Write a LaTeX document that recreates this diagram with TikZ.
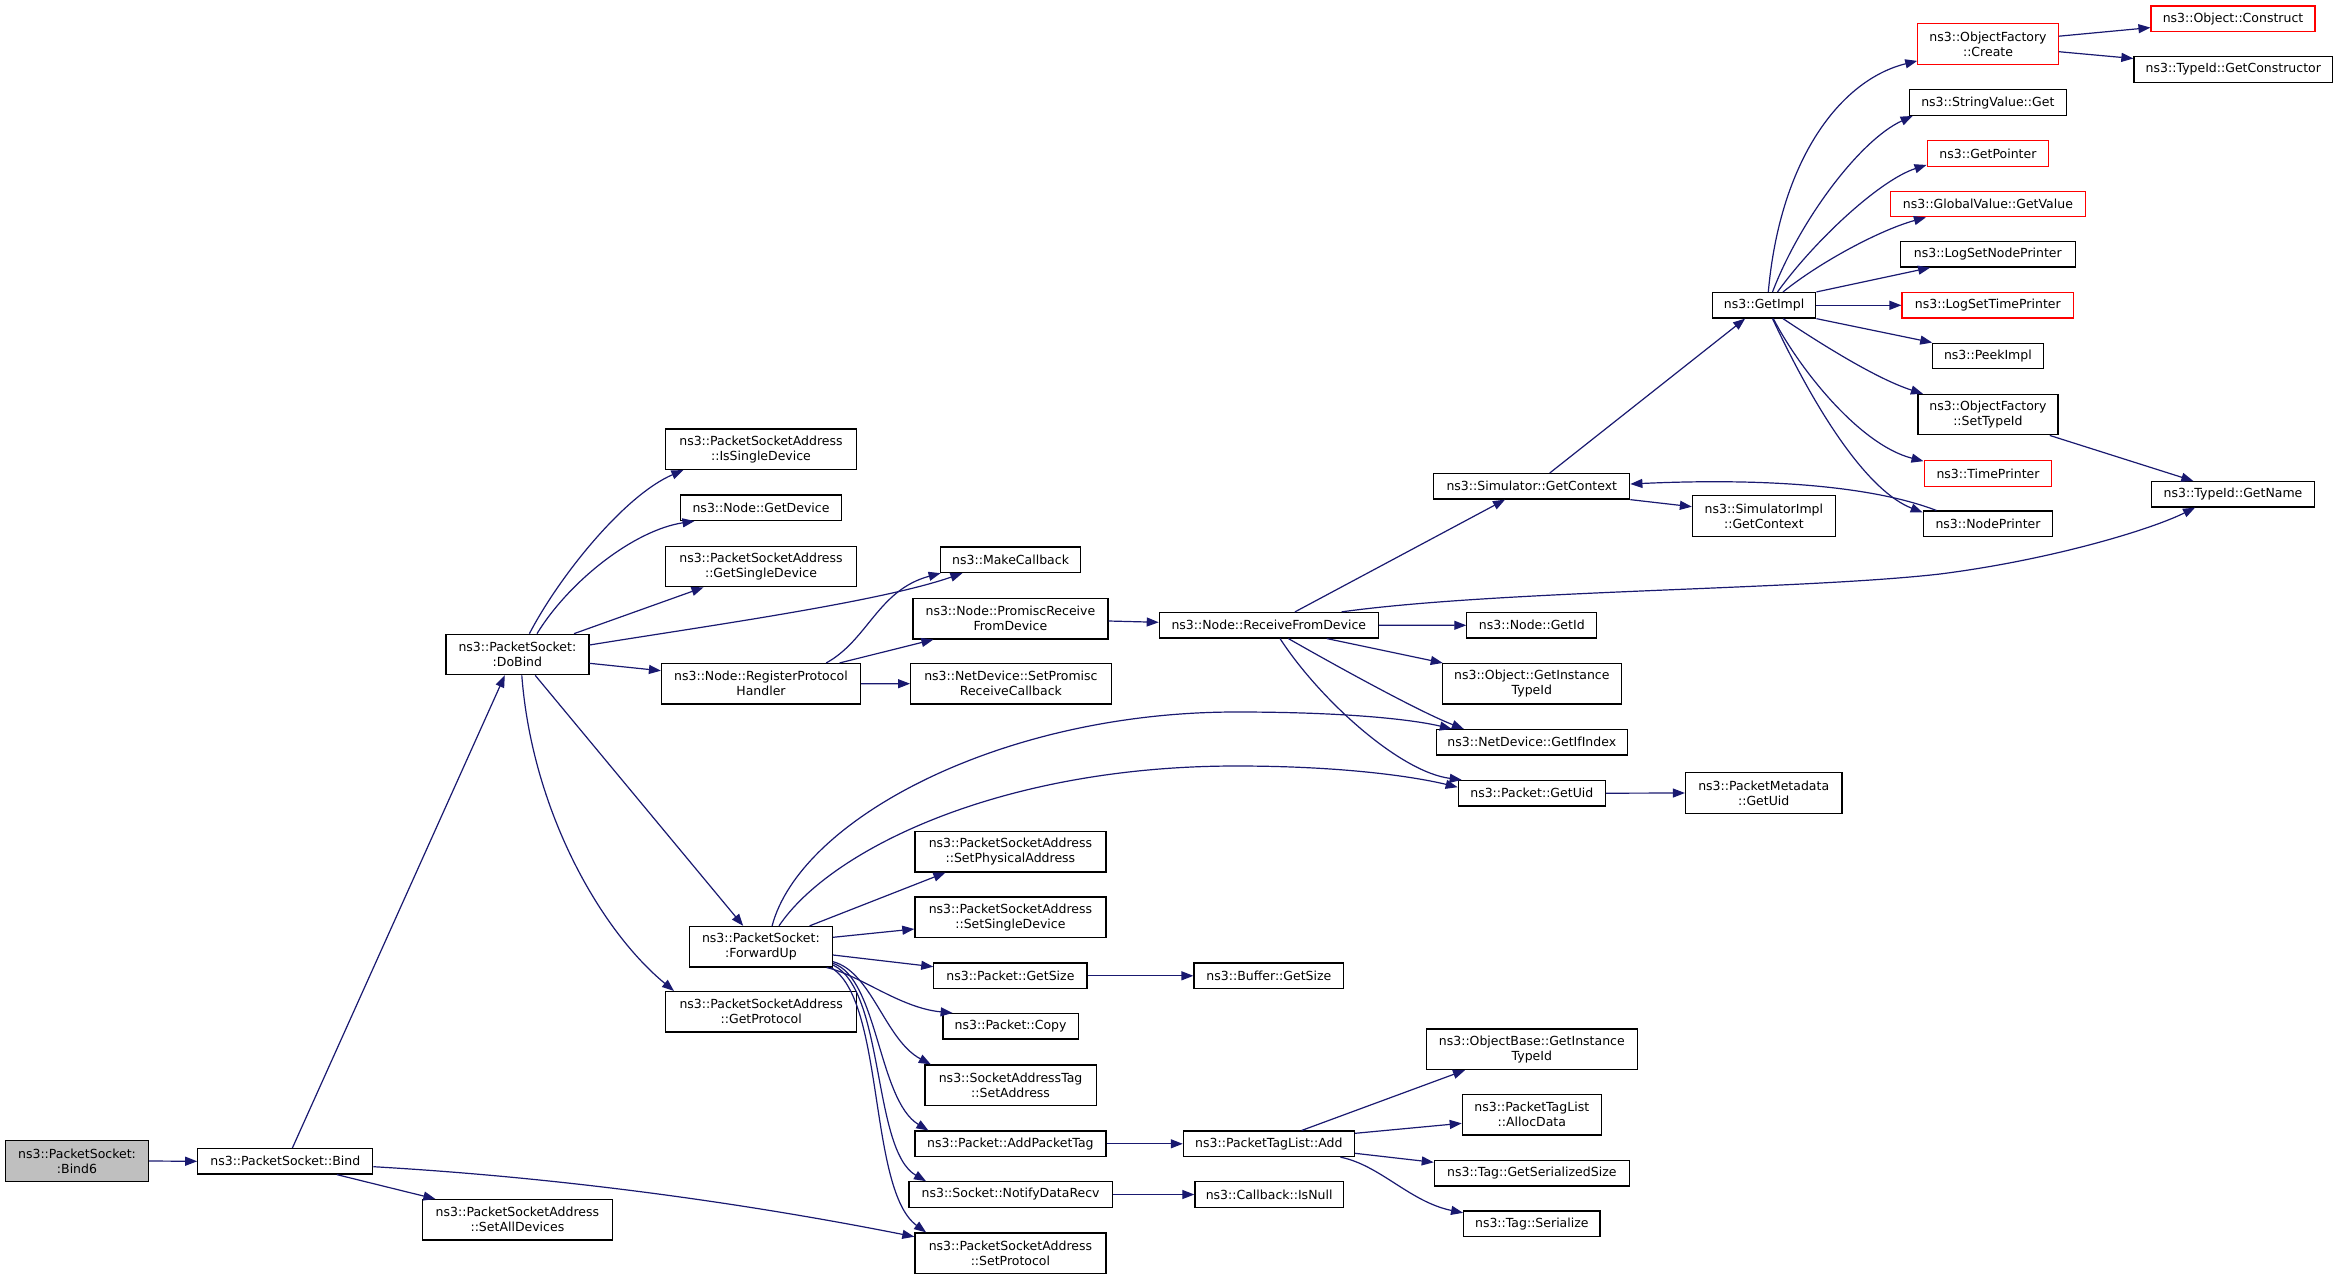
\documentclass[tikz,border=0pt]{standalone}
\usepackage{fontspec}
\setmainfont{DejaVu Sans}
\usetikzlibrary{calc,arrows.meta}
\definecolor{navyc}{RGB}{25,25,112}
\definecolor{grayfill}{RGB}{191,191,191}
\tikzset{
  fn/.style={draw=black, line width=1.2pt, fill=white, inner sep=0pt, align=center,
    font=\fontsize{12.5}{15}\selectfont, minimum height=25.5pt},
  fn2/.style={fn, minimum height=40.5pt},
  trunc/.style={draw=red},
  edge/.style={draw=navyc, line width=1.2pt, -{Triangle[length=12pt,width=9pt]}},
}
\begin{document}
\begin{tikzpicture}[x=1pt,y=-1pt]
\fill[white] (0,0) rectangle (2339,1279);
\useasboundingbox (0,0) rectangle (2339,1279);

% ---- nodes ----
\node[fn2, fill=grayfill, minimum width=143pt] (bind6) at (77,1161) {ns3::PacketSocket:\\:Bind6};
\node[fn, minimum width=175pt] (bind) at (285.3,1161.3) {ns3::PacketSocket::Bind};
\node[fn2, minimum width=143pt] (dobind) at (517.4,654.5) {ns3::PacketSocket:\\:DoBind};
\node[fn2, minimum width=190pt] (setall) at (517.4,1219.8) {ns3::PacketSocketAddress\\::SetAllDevices};
\node[fn2, minimum width=191pt] (setproto) at (1010.4,1253.2) {ns3::PacketSocketAddress\\::SetProtocol};
\node[fn2, minimum width=191pt] (issingle) at (761,449.2) {ns3::PacketSocketAddress\\::IsSingleDevice};
\node[fn, minimum width=161.6pt] (getdevice) at (761,507.7) {ns3::Node::GetDevice};
\node[fn2, minimum width=191pt] (getsingle) at (761,566.5) {ns3::PacketSocketAddress\\::GetSingleDevice};
\node[fn, minimum width=140.2pt] (makecb) at (1010.6,559.8) {ns3::MakeCallback};
\node[fn2, minimum width=199pt] (register) at (761,683.8) {ns3::Node::RegisterProtocol\\Handler};
\node[fn2, minimum width=195pt] (promisc) at (1010.4,618.7) {ns3::Node::PromiscReceive\\FromDevice};
\node[fn2, minimum width=200.5pt] (setpromisc) at (1010.9,683.7) {ns3::NetDevice::SetPromisc\\ReceiveCallback};
\node[fn2, minimum width=143pt] (forward) at (760.9,946.7) {ns3::PacketSocket:\\:ForwardUp};
\node[fn2, minimum width=191pt] (getproto) at (761.2,1011.8) {ns3::PacketSocketAddress\\::GetProtocol};
\node[fn2, minimum width=191pt] (setphys) at (1010.4,851.8) {ns3::PacketSocketAddress\\::SetPhysicalAddress};
\node[fn2, minimum width=191pt] (setsingle) at (1010.4,917.2) {ns3::PacketSocketAddress\\::SetSingleDevice};
\node[fn, minimum width=153.2pt] (getsize) at (1010.4,975.8) {ns3::Packet::GetSize};
\node[fn, minimum width=149.8pt] (bufsize) at (1268.9,975.8) {ns3::Buffer::GetSize};
\node[fn, minimum width=135.3pt] (copy) at (1010.6,1026.3) {ns3::Packet::Copy};
\node[fn2, minimum width=171.1pt] (setaddr) at (1010.6,1085.2) {ns3::SocketAddressTag\\::SetAddress};
\node[fn, minimum width=191pt] (addtag) at (1010.4,1143.8) {ns3::Packet::AddPacketTag};
\node[fn, minimum width=171.1pt] (tagadd) at (1268.9,1143.8) {ns3::PacketTagList::Add};
\node[fn, minimum width=203.1pt] (notify) at (1010.6,1194.5) {ns3::Socket::NotifyDataRecv};
\node[fn, minimum width=148.3pt] (isnull) at (1269.1,1194.5) {ns3::Callback::IsNull};
\node[fn, minimum width=219pt] (recv) at (1268.8,625.2) {ns3::Node::ReceiveFromDevice};
\node[fn, minimum width=196pt] (simctx) at (1531.8,486.3) {ns3::Simulator::GetContext};
\node[fn2, minimum width=142.9pt] (simimpl) at (1763.9,516) {ns3::SimulatorImpl\\::GetContext};
\node[fn, minimum width=129.9pt] (getid) at (1531.8,625.3) {ns3::Node::GetId};
\node[fn2, minimum width=179pt] (objtid) at (1531.8,683.8) {ns3::Object::GetInstance\\TypeId};
\node[fn, minimum width=190.8pt] (ifindex) at (1531.8,742.3) {ns3::NetDevice::GetIfIndex};
\node[fn, minimum width=147.1pt] (getuid) at (1531.8,793.2) {ns3::Packet::GetUid};
\node[fn2, minimum width=156.4pt] (metauid) at (1763.7,793) {ns3::PacketMetadata\\::GetUid};
\node[fn2, minimum width=211pt] (basetid) at (1531.8,1049.3) {ns3::ObjectBase::GetInstance\\TypeId};
\node[fn2, minimum width=139pt] (alloc) at (1531.8,1114.7) {ns3::PacketTagList\\::AllocData};
\node[fn, minimum width=195pt] (sersize) at (1531.8,1173.2) {ns3::Tag::GetSerializedSize};
\node[fn, minimum width=136.3pt] (serialize) at (1531.8,1223.8) {ns3::Tag::Serialize};
\node[fn, minimum width=103.4pt] (getimpl) at (1764.1,305.3) {ns3::GetImpl};
\node[fn2, trunc, minimum width=140.4pt] (create) at (1988,43.9) {ns3::ObjectFactory\\::Create};
\node[fn, trunc, minimum width=163.9pt] (construct) at (2233,18.8) {ns3::Object::Construct};
\node[fn, minimum width=198.8pt] (getctor) at (2233.3,69.4) {ns3::TypeId::GetConstructor};
\node[fn, minimum width=157.2pt] (strget) at (1987.8,102.6) {ns3::StringValue::Get};
\node[fn, trunc, minimum width=121.5pt] (getptr) at (1987.9,153.6) {ns3::GetPointer};
\node[fn, trunc, minimum width=194.6pt] (globval) at (1987.9,204) {ns3::GlobalValue::GetValue};
\node[fn, minimum width=174.9pt] (lognode) at (1987.8,254.3) {ns3::LogSetNodePrinter};
\node[fn, trunc, minimum width=171.5pt] (logtime) at (1987.8,305.3) {ns3::LogSetTimePrinter};
\node[fn, minimum width=110.5pt] (peek) at (1987.9,355.9) {ns3::PeekImpl};
\node[fn2, minimum width=140pt] (settid) at (1987.9,414.6) {ns3::ObjectFactory\\::SetTypeId};
\node[fn, trunc, minimum width=126.9pt] (timepr) at (1988,473.5) {ns3::TimePrinter};
\node[fn, minimum width=129.5pt] (nodepr) at (1988,523.8) {ns3::NodePrinter};
\node[fn, minimum width=162.6pt] (getname) at (2233,494.3) {ns3::TypeId::GetName};

% ---- edges ----
\draw[edge] (bind6.east) -- (bind.west);
\draw[edge] ($(bind.north)+(7.1,0)$) -- ($(dobind.south)+(-12.6,0)$);
\draw[edge] ($(bind.south)+(51.7,0)$) -- ($(setall.north)+(-82,0)$);
\draw[edge] ($(bind.east)+(0,5.4)$) .. controls (553,1177) and (734,1201) .. ($(setproto.west)+(0,-16.5)$);

\draw[edge] ($(dobind.north)+(12,0)$) .. controls (560,575) and (625,495) .. ($(issingle.south)+(-77.6,0)$);
\draw[edge] ($(dobind.north)+(19.6,0)$) .. controls (570,580) and (635,530) .. ($(getdevice.south)+(-66.5,0)$);
\draw[edge] ($(dobind.north)+(56.6,0)$) -- ($(getsingle.south)+(-57.5,0)$);
\draw[edge] ($(dobind.east)+(0,-9.5)$) .. controls (700,627) and (880,602) .. ($(makecb.south)+(-48.2,0)$);
\draw[edge] ($(dobind.east)+(0,8.8)$) -- ($(register.west)+(0,-13.1)$);
\draw[edge] ($(dobind.south)+(17.8,0)$) -- ($(forward.north)+(-17.7,0)$);
\draw[edge] ($(dobind.south)+(4.4,0)$) .. controls (532,810) and (600,930) .. ($(getproto.north)+(-87.2,0)$);

\draw[edge] ($(register.north)+(65.2,0)$) .. controls (868,640) and (878,590) .. ($(makecb.south)+(-70,0)$);
\draw[edge] ($(register.north)+(78.6,0)$) -- ($(promisc.south)+(-77,0)$);
\draw[edge] (register.east) -- (setpromisc.west);
\draw[edge] ($(promisc.east)+(0,2.3)$) -- ($(recv.west)+(0,-2.9)$);

\draw[edge] ($(recv.north)+(26.2,0)$) -- ($(simctx.south)+(-26.8,0)$);
\draw[edge] ($(recv.north)+(72.9,0)$) .. controls (1500,590) and (1800,590) .. (1940,574) .. controls (2050,560) and (2150,530) .. ($(getname.south)+(-38,0)$);
\draw[edge] (recv.east) -- (getid.west);
\draw[edge] ($(recv.south)+(57.9,0)$) -- ($(objtid.north west)+(1,0)$);
\draw[edge] ($(recv.south)+(19.5,0)$) .. controls (1340,668) and (1420,712) .. ($(ifindex.north west)+(28,0)$);
\draw[edge] ($(recv.south)+(11.2,0)$) .. controls (1320,700) and (1400,772) .. ($(getuid.north west)+(4,0)$);

\draw[edge] ($(forward.north)+(11.2,0)$) .. controls (800,820) and (1000,712) .. (1236,712) .. controls (1350,712) and (1415,720) .. ($(ifindex.north west)+(16,0)$);
\draw[edge] ($(forward.north)+(18.1,0)$) .. controls (830,850) and (1000,766) .. (1236,766) .. controls (1350,766) and (1420,778) .. ($(getuid.west)+(0,-6)$);
\draw[edge] ($(forward.north)+(48.7,0)$) -- ($(setphys.south)+(-65,0)$);
\draw[edge] ($(forward.east)+(0,-9.4)$) -- ($(setsingle.west)+(0,11.8)$);
\draw[edge] ($(forward.east)+(0,8.3)$) -- ($(getsize.west)+(0,-9.1)$);
\draw[edge] ($(forward.south)+(65.7,0)$) .. controls (860,975) and (900,1008) .. ($(copy.north)+(-58,0)$);
\draw[edge] ($(forward.east)+(0,15)$) .. controls (872,972) and (885,1040) .. ($(setaddr.north)+(-79.8,0)$);
\draw[edge] ($(forward.east)+(0,16.6)$) .. controls (878,978) and (878,1100) .. ($(addtag.north)+(-82,0)$);
\draw[edge] ($(forward.east)+(0,18.3)$) .. controls (885,990) and (872,1150) .. ($(notify.north)+(-84.6,0)$);
\draw[edge] ($(forward.south east)+(-2,0)$) .. controls (885,1000) and (868,1190) .. ($(setproto.north)+(-84.3,0)$);

\draw[edge] (getsize.east) -- (bufsize.west);
\draw[edge] (addtag.east) -- (tagadd.west);
\draw[edge] (notify.east) -- (isnull.west);
\draw[edge] (getuid.east) -- (metauid.west);

\draw[edge] ($(tagadd.north)+(32.7,0)$) -- ($(basetid.south)+(-66.8,0)$);
\draw[edge] ($(tagadd.east)+(0,-10.5)$) -- ($(alloc.west)+(0,8.6)$);
\draw[edge] ($(tagadd.east)+(0,9.5)$) -- ($(sersize.west)+(0,-10.9)$);
\draw[edge] ($(tagadd.south)+(71.5,0)$) .. controls (1380,1165) and (1410,1202) .. ($(serialize.west)+(0,-11)$);

\draw[edge] ($(simctx.north)+(18,0)$) -- ($(getimpl.south)+(-19,0)$);
\draw[edge] (simctx.south east) -- ($(simimpl.west)+(0,-9.3)$);
\draw[edge] ($(nodepr.north)+(-51.6,0)$) .. controls (1870,485) and (1760,478) .. ($(simctx.east)+(0,-2.3)$);

\draw[edge] ($(getimpl.north)+(4.2,0)$) .. controls (1780,160) and (1840,80) .. ($(create.west)+(0,17)$);
\draw[edge] ($(getimpl.north)+(8.4,0)$) .. controls (1800,220) and (1860,140) .. ($(strget.south west)+(4,0)$);
\draw[edge] ($(getimpl.north)+(13.4,0)$) .. controls (1815,240) and (1880,180) .. ($(getptr.south west)+(0,-2)$);
\draw[edge] ($(getimpl.north)+(18.9,0)$) .. controls (1820,262) and (1880,230) .. ($(globval.south)+(-62,0)$);
\draw[edge] (getimpl.north east) -- ($(lognode.south)+(-57.7,0)$);
\draw[edge] (getimpl.east) -- (logtime.west);
\draw[edge] (getimpl.south east) -- ($(peek.north)+(-55.7,0)$);
\draw[edge] ($(getimpl.south)+(18.9,0)$) .. controls (1830,350) and (1880,380) .. ($(settid.north)+(-65,0)$);
\draw[edge] ($(getimpl.south)+(9.2,0)$) .. controls (1800,370) and (1860,445) .. ($(timepr.north west)+(-0.5,1)$);
\draw[edge] ($(getimpl.south)+(8.4,0)$) .. controls (1820,420) and (1870,492) .. ($(nodepr.north west)+(0,2)$);

\draw[edge] ($(create.east)+(0,-7.7)$) -- ($(construct.west)+(0,8.8)$);
\draw[edge] ($(create.east)+(0,7.8)$) -- ($(getctor.west)+(0,-10.9)$);
\draw[edge] ($(settid.south)+(61.9,0)$) -- ($(getname.north)+(-39.7,0)$);
\end{tikzpicture}
\end{document}
